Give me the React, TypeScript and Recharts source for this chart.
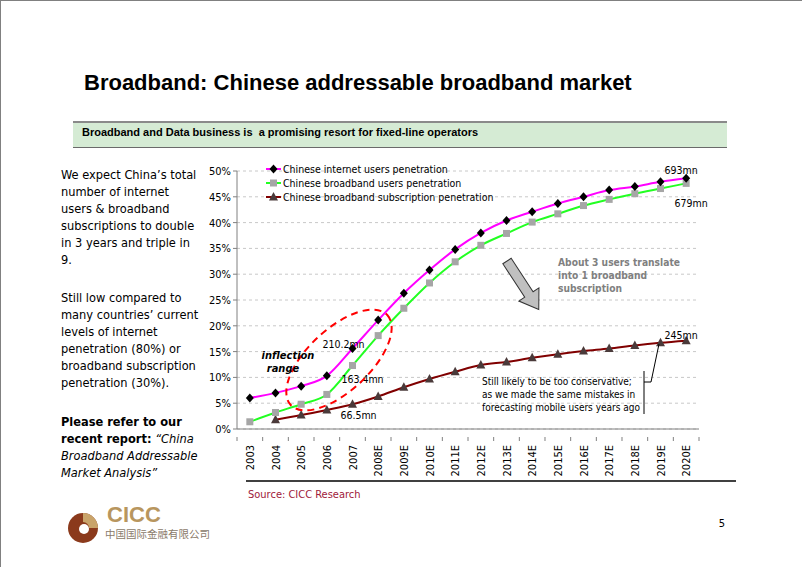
import React from 'react';
import { LineChart, Line, XAxis, YAxis, CartesianGrid, LabelList } from 'recharts';

// categories and series values (percent of population)
const years = ['2003', '2004', '2005', '2006', '2007', '2008E', '2009E', '2010E', '2011E', '2012E',
  '2013E', '2014E', '2015E', '2016E', '2017E', '2018E', '2019E', '2020E'];
const internetUsers = [6.0, 7.0, 8.3, 10.3, 15.6, 21.1, 26.3, 30.8, 34.8, 38.0,
  40.4, 42.1, 43.7, 45.0, 46.3, 47.0, 47.9, 48.6];
const broadbandUsers = [1.4, 3.2, 4.8, 6.7, 12.3, 18.1, 23.4, 28.3, 32.4, 35.6,
  37.9, 40.1, 41.7, 43.3, 44.5, 45.6, 46.6, 47.6];
const broadbandSubs = [null, 1.8, 2.7, 3.7, 4.8, 6.3, 8.1, 9.7, 11.1, 12.4,
  13.0, 13.8, 14.5, 15.1, 15.6, 16.2, 16.7, 17.1];
const yTicks = [0, 5, 10, 15, 20, 25, 30, 35, 40, 45, 50];

// point notes: year -> label
const internetNotes: Record<string, string> = { '2007': '210.2mn', '2020E': '693mn' };
const broadbandNotes: Record<string, string> = { '2007': '163.4mn', '2020E': '679mn' };
const subsNotes: Record<string, string> = { '2007': '66.5mn', '2020E': '245mn' };

const seriesNames = [
  'Chinese internet users penetration',
  'Chinese broadband users penetration',
  'Chinese broadband subscription penetration',
];

const data = years.map((y, i) => ({
  year: y,
  internet: internetUsers[i],
  broadband: broadbandUsers[i],
  subs: broadbandSubs[i],
}));

const CHART_FONT = '"DejaVu Sans Condensed", "DejaVu Sans", sans-serif';
const TEXT_FONT = '"DejaVu Sans Condensed", "DejaVu Sans", sans-serif';

const PLOT_LEFT = 236;
const PLOT_RIGHT = 698;
const BAND = (PLOT_RIGHT - PLOT_LEFT) / years.length;

const COLORS = {
  internet: '#ff00ff',
  broadband: '#22ff22',
  subs: '#800000',
  diamond: '#000000',
  square: '#a6a6a6',
  triangle: '#4a3a3a',
};

// marker shapes
const Diamond = ({ cx, cy }: any) =>
  cx == null || cy == null ? null : (
    <path d={`M${cx},${cy - 4.5} L${cx + 4},${cy} L${cx},${cy + 4.5} L${cx - 4},${cy} Z`} fill={COLORS.diamond} />
  );
const Square = ({ cx, cy }: any) =>
  cx == null || cy == null ? null : <rect x={cx - 3.5} y={cy - 3.5} width={7} height={7} fill={COLORS.square} />;
const Triangle = ({ cx, cy }: any) =>
  cx == null || cy == null ? null : (
    <path d={`M${cx},${cy - 5} L${cx + 4.5},${cy + 3.5} L${cx - 4.5},${cy + 3.5} Z`} fill={COLORS.triangle} />
  );

const noteOffsets: Record<string, Record<string, [number, number]>> = {
  internet: { '2007': [-9, -5], '2020E': [-5, -8] },
  broadband: { '2007': [10, 13], '2020E': [5, 20] },
  subs: { '2007': [6, 11], '2020E': [-5, -6] },
};

const makeNote = (key: string, notes: Record<string, string>) => (props: any) => {
  const { x, y, index } = props;
  const yr = years[index];
  const txt = notes[yr];
  if (!txt) return null;
  const [dx, dy] = noteOffsets[key][yr];
  return (
    <text x={x + dx} y={y + dy} textAnchor="middle" dominantBaseline="central"
      fontSize={10.5} fontFamily={CHART_FONT} fill="#000">
      {txt}
    </text>
  );
};

const YearTick = ({ x, y, payload, index }: any) => (
  <g transform={`translate(${x},${y})`}>
    <line x1={-BAND / 2} y1={0} x2={-BAND / 2} y2={4} stroke="#808080" />
    {index === years.length - 1 && <line x1={BAND / 2} y1={0} x2={BAND / 2} y2={4} stroke="#808080" />}
    <text transform="rotate(-90)" x={-8} y={0} dy={4} textAnchor="end" fontSize={11}
      fontFamily={CHART_FONT} fill="#000">
      {payload.value}
    </text>
  </g>
);

const markers = [Diamond, Square, Triangle];
const lineColors = [COLORS.internet, COLORS.broadband, COLORS.subs];

const LegendBox = () => (
  <svg width={240} height={44}>
    {seriesNames.map((n, i) => {
      const M = markers[i];
      const cy = 7 + i * 14;
      return (
        <g key={n}>
          <line x1={5} y1={cy} x2={20} y2={cy} stroke={lineColors[i]} strokeWidth={2} />
          <M cx={12.5} cy={cy} />
          <text x={22} y={cy} dominantBaseline="central" fontSize={10.5} fontFamily={CHART_FONT} fill="#000">{n}</text>
        </g>
      );
    })}
  </svg>
);

const leftText: React.CSSProperties = {
  position: 'absolute', left: 60, width: 150, fontFamily: TEXT_FONT, fontSize: 12.7,
  lineHeight: '17px', color: '#000',
};

export default function App() {
  return (
    <div style={{ position: 'absolute', left: 0, top: 0, width: 802, height: 567, background: '#fff',
      overflow: 'hidden', borderTop: '1px solid #808080', borderLeft: '1px solid #808080', boxSizing: 'border-box' }}>
      <div style={{ position: 'absolute', left: 83, top: 69, fontFamily: '"Liberation Sans", Arial, sans-serif',
        fontWeight: 'bold', fontSize: 22, whiteSpace: 'nowrap' }}>
        Broadband: Chinese addressable broadband market
      </div>
      <div style={{ position: 'absolute', left: 72, top: 120, width: 654, height: 27, background: '#d5ebd4',
        borderTop: '2px solid #8a8a8a', borderBottom: '1px solid #6a6a6a', boxSizing: 'border-box' }}>
        <div style={{ position: 'absolute', left: 9, top: 3, fontFamily: '"Liberation Sans Narrow", "Liberation Sans", Arial, sans-serif',
          fontWeight: 'bold', fontSize: 11, whiteSpace: 'pre' }}>
          Broadband and Data business is  a promising resort for fixed-line operators
        </div>
      </div>

      <div style={{ ...leftText, top: 165 }}>
        We expect China’s total<br />number of internet<br />users &amp; broadband<br />subscriptions to double<br />in 3 years and triple in<br />9.
      </div>
      <div style={{ ...leftText, top: 288 }}>
        Still low compared to<br />many countries’ current<br />levels of internet<br />penetration (80%) or<br />broadband subscription<br />penetration (30%).
      </div>
      <div style={{ ...leftText, top: 412 }}>
        <b>Please refer to our<br />recent report:</b> <i>“China<br />Broadband Addressable<br />Market Analysis”</i>
      </div>

      <LineChart width={802} height={567} data={data}
        margin={{ top: 170, right: 802 - PLOT_RIGHT, bottom: 99, left: PLOT_LEFT - 60 }}
        style={{ position: 'absolute', left: 0, top: 0 }}>
        <CartesianGrid vertical={false} stroke="#c8c8c8" strokeDasharray="3 3" />
        <XAxis dataKey="year" interval={0} height={40} tick={<YearTick />} tickLine={false}
          padding={{ left: BAND / 2, right: BAND / 2 }} axisLine={{ stroke: '#808080' }} />
        <YAxis width={60} domain={[0, 50]} ticks={yTicks} tickFormatter={(v) => `${v}%`}
          tick={{ fontSize: 11, fontFamily: CHART_FONT, fill: '#000' }} tickSize={4}
          axisLine={{ stroke: '#808080' }} tickLine={{ stroke: '#808080' }} />
        <Line type="monotone" dataKey="subs" name={seriesNames[2]} stroke={COLORS.subs} strokeWidth={2}
          dot={<Triangle />} activeDot={false} isAnimationActive={false}>
          <LabelList dataKey="subs" content={makeNote('subs', subsNotes)} />
        </Line>
        <Line type="monotone" dataKey="broadband" name={seriesNames[1]} stroke={COLORS.broadband} strokeWidth={2}
          dot={<Square />} activeDot={false} isAnimationActive={false}>
          <LabelList dataKey="broadband" content={makeNote('broadband', broadbandNotes)} />
        </Line>
        <Line type="monotone" dataKey="internet" name={seriesNames[0]} stroke={COLORS.internet} strokeWidth={2}
          dot={<Diamond />} activeDot={false} isAnimationActive={false}>
          <LabelList dataKey="internet" content={makeNote('internet', internetNotes)} />
        </Line>
      </LineChart>

      <div style={{ position: 'absolute', left: 260, top: 161 }}>
        <LegendBox />
      </div>

      {/* annotations drawn over the chart */}
      <svg width={802} height={567} style={{ position: 'absolute', left: 0, top: 0, pointerEvents: 'none' }}>
        <ellipse cx={338} cy={359} rx={66} ry={31} transform="rotate(-43 338 359)" fill="none"
          stroke="#ff0000" strokeWidth={2} strokeDasharray="7 5" />
        <text x={287} y={358} textAnchor="middle" fontSize={11} fontWeight="bold" fontStyle="italic" fontFamily={CHART_FONT}>inflection</text>
        <text x={282} y={371} textAnchor="middle" fontSize={11} fontWeight="bold" fontStyle="italic" fontFamily={CHART_FONT}>range</text>

        <g transform="translate(506,260) rotate(56.8)">
          <polygon points="0,-5 40,-5 40,-12 58,0 40,12 40,5 0,5" fill="#c0c0c0" stroke="#333" strokeWidth={1} />
        </g>
        <text fontSize={10.2} fontWeight="bold" fill="#808080" fontFamily={CHART_FONT}>
          <tspan x={557} y={265}>About 3 users translate</tspan>
          <tspan x={557} y={278}>into 1 broadband</tspan>
          <tspan x={557} y={291}>subscription</tspan>
        </text>

        <text fontSize={10} fill="#000" fontFamily={CHART_FONT}>
          <tspan x={481} y={384}>Still likely to be too conservative;</tspan>
          <tspan x={481} y={397}>as we made the same mistakes in</tspan>
          <tspan x={481} y={410}>forecasting mobile users years ago</tspan>
        </text>
        <polyline points="643,370 643,413" fill="none" stroke="#000" strokeWidth={1} />
        <polyline points="643,381 650,381 658,343" fill="none" stroke="#000" strokeWidth={1} />

        <line x1={245} y1={480} x2={735} y2={480} stroke="#000" strokeWidth={1.5} />
        <text x={247} y={497} fontSize={11} fill="#a0203a" fontFamily={CHART_FONT}>Source: CICC Research</text>

        {/* logo */}
        <circle cx={82} cy={527} r={15} fill="#8b3a1c" />
        <path d="M82,512 A15,15 0 0 1 97,527 L88,527 A6,6 0 0 0 82,521 Z" fill="#c9a46a" />
        <circle cx={83} cy={528} r={5} fill="#fff" />
        <text x={106} y={521} fontSize={22} fontWeight="bold" fill="#b8965e" fontFamily='"Liberation Sans", sans-serif'>CICC</text>
        <text x={104} y={537} fontSize={10.5} fill="#8a7a6a" fontFamily='"Noto Sans CJK SC", sans-serif'>中国国际金融有限公司</text>
        <text x={721} y={526} fontSize={11} textAnchor="middle" fill="#000" fontFamily={CHART_FONT}>5</text>
      </svg>
    </div>
  );
}
